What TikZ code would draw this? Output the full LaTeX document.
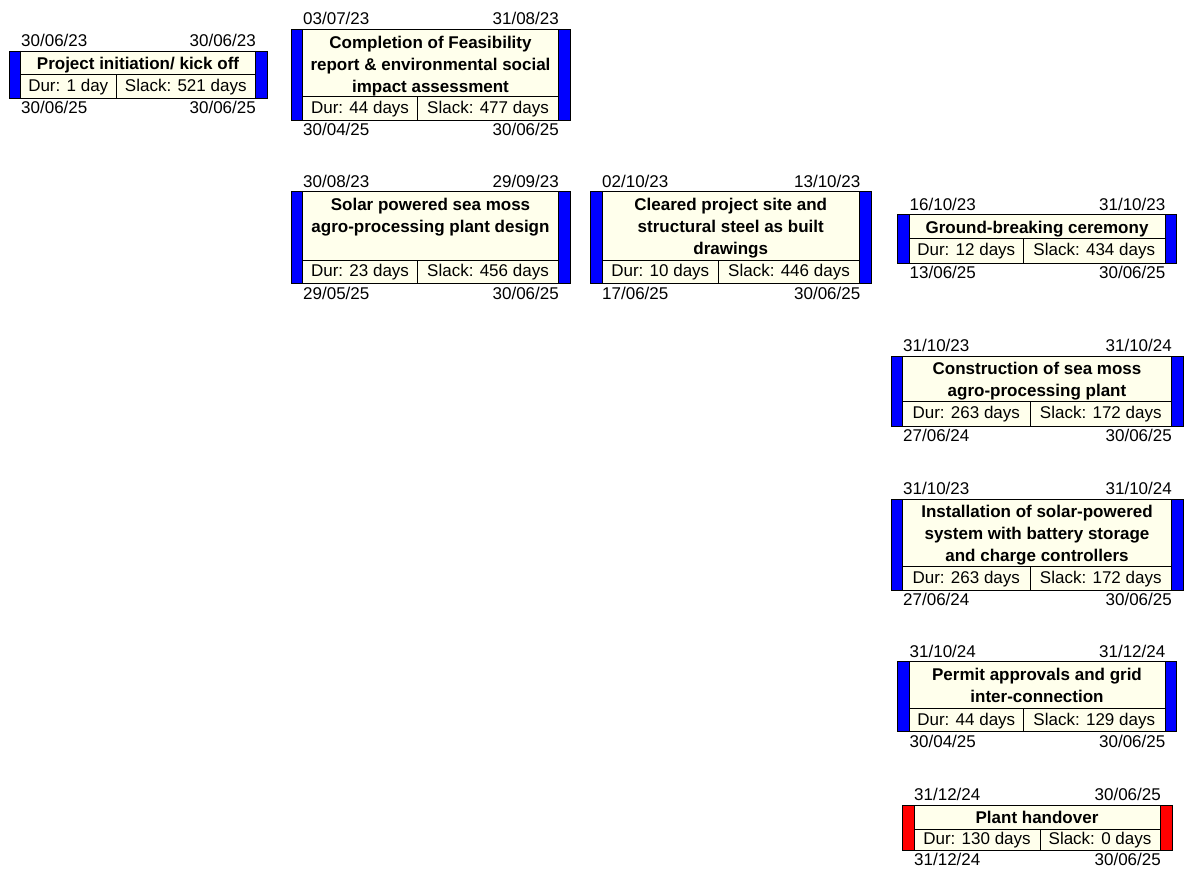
\documentclass[tikz,border=0pt]{standalone}
\usepackage{fontspec}
\setmainfont{Liberation Sans}

\definecolor{boxcream}{RGB}{255,255,236}
\definecolor{barblue}{RGB}{0,0,255}
\definecolor{barred}{RGB}{255,0,0}

\tikzset{
  basefont/.style={font=\fontsize{17}{22}\selectfont},
  frameline/.style={draw=black, line width=0.9pt},
  celltext/.style={basefont, inner sep=0pt, anchor=base},
  titletext/.style={inner sep=0pt, anchor=north, align=center,
    font=\fontsize{17}{22}\selectfont\bfseries},
  datetext/.style={basefont, inner sep=0pt},
}

% #1 name, #2 left, #3 right, #4 top, #5 divider, #6 bottom,
% #7 cell split, #8 bar width, #9 bar colour
\newcommand{\taskframe}[9]{%
  \fill[boxcream] (#2,#4) rectangle (#3,#6);
  \fill[#9] (#2,#4) rectangle ({#2+#8},#6);
  \fill[#9] ({#3-#8},#4) rectangle (#3,#6);
  \draw[frameline] ({#2+#8},#4) -- ({#2+#8},#6);
  \draw[frameline] ({#3-#8},#4) -- ({#3-#8},#6);
  \draw[frameline] ({#2+#8},#5) -- ({#3-#8},#5);
  \draw[frameline] (#7,#5) -- (#7,#6);
  \draw[frameline] (#2,#4) rectangle (#3,#6);
  \coordinate (#1-title) at ({(#2+#3)/2},{#4+3});
  \coordinate (#1-dur) at ({(#2+#8+#7)/2},{(#5+#6)/2+5});
  \coordinate (#1-slack) at ({(#7+#3-#8)/2},{(#5+#6)/2+5});
  \coordinate (#1-tl) at ({#2+12},{#4-4.5});
  \coordinate (#1-tr) at ({#3-11},{#4-4.5});
  \coordinate (#1-bl) at ({#2+12},{#6+15.5});
  \coordinate (#1-br) at ({#3-11},{#6+15.5});
}

% #1 name, #2 title, #3 duration, #4 slack,
% #5 early start, #6 early finish, #7 late start, #8 late finish
\newcommand{\tasktext}[8]{%
  \node[titletext] (#1-t) at (#1-title) {\strut #2};
  \node[celltext] (#1-d) at (#1-dur) {#3};
  \node[celltext] (#1-s) at (#1-slack) {#4};
  \node[datetext, anchor=base west] (#1-es) at (#1-tl) {#5};
  \node[datetext, anchor=base east] (#1-ef) at (#1-tr) {#6};
  \node[datetext, anchor=base west] (#1-ls) at (#1-bl) {#7};
  \node[datetext, anchor=base east] (#1-lf) at (#1-br) {#8};
}

\begin{document}
\begin{tikzpicture}[x=1pt, y=-1pt]
\useasboundingbox[fill=white] (0,0) rectangle (1186,872);

\taskframe{kick}{9}{267}{51}{74.5}{98}{116}{11.5}{barblue}
\tasktext{kick}{Project initiation/ kick off}{Dur: 1 day}{Slack: 521 days}
  {30/06/23}{30/06/23}{30/06/25}{30/06/25}

\taskframe{feas}{291}{570}{29.5}{96.5}{120.5}{417.5}{11.5}{barblue}
\tasktext{feas}{Completion of Feasibility\\report \& environmental social\\impact assessment}
  {Dur: 44 days}{Slack: 477 days}{03/07/23}{31/08/23}{30/04/25}{30/06/25}

\taskframe{design}{291}{570}{191.5}{260}{283.5}{417.5}{11.5}{barblue}
\tasktext{design}{Solar powered sea moss\\agro-processing plant design}
  {Dur: 23 days}{Slack: 456 days}{30/08/23}{29/09/23}{29/05/25}{30/06/25}

\taskframe{site}{590}{871.5}{191.5}{260}{283.5}{718.5}{12}{barblue}
\tasktext{site}{Cleared project site and\\structural steel as built\\drawings}
  {Dur: 10 days}{Slack: 446 days}{02/10/23}{13/10/23}{17/06/25}{30/06/25}

\taskframe{ground}{897.5}{1176.5}{214.5}{238.5}{263}{1023.5}{11.5}{barblue}
\tasktext{ground}{Ground-breaking ceremony}
  {Dur: 12 days}{Slack: 434 days}{16/10/23}{31/10/23}{13/06/25}{30/06/25}

\taskframe{build}{891}{1183}{356}{401.5}{426}{1030}{11.5}{barblue}
\tasktext{build}{Construction of sea moss\\agro-processing plant}
  {Dur: 263 days}{Slack: 172 days}{31/10/23}{31/10/24}{27/06/24}{30/06/25}

\taskframe{solar}{891}{1183}{499}{566}{590}{1030}{11.5}{barblue}
\tasktext{solar}{Installation of solar-powered\\system with battery storage\\and charge controllers}
  {Dur: 263 days}{Slack: 172 days}{31/10/23}{31/10/24}{27/06/24}{30/06/25}

\taskframe{permit}{897.5}{1176.5}{661.5}{708.5}{731.5}{1023.5}{11.5}{barblue}
\tasktext{permit}{Permit approvals and grid\\inter-connection}
  {Dur: 44 days}{Slack: 129 days}{31/10/24}{31/12/24}{30/04/25}{30/06/25}

\taskframe{handover}{902}{1172}{805}{829.5}{850}{1040}{12}{barred}
\tasktext{handover}{Plant handover}
  {Dur: 130 days}{Slack: 0 days}{31/12/24}{30/06/25}{31/12/24}{30/06/25}
\end{tikzpicture}
\end{document}
